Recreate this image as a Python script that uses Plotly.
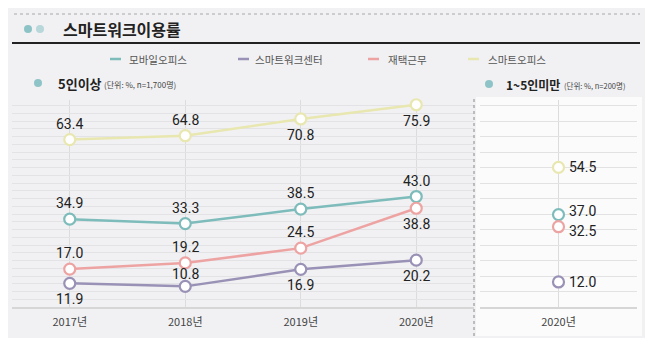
import plotly.graph_objects as go

# ---------------- data ----------------
years = ["2017년", "2018년", "2019년", "2020년"]
series_names = ["모바일오피스", "스마트워크센터", "재택근무", "스마트오피스"]
mobile_office = [34.9, 33.3, 38.5, 43.0]
smartwork_center = [11.9, 10.8, 16.9, 20.2]
home_work = [17.0, 19.2, 24.5, 38.8]
smart_office = [63.4, 64.8, 70.8, 75.9]

small_category = ["2020년"]
small_values = [37.0, 12.0, 32.5, 54.5]  # same order as series_names

title_text = "스마트워크이용률"
left_title = "5인이상"
left_unit = "(단위: %, n=1,700명)"
right_title = "1~5인미만"
right_unit = "(단위: %, n=200명)"

# ---------------- styling ----------------
colors = ["#7dbcbb", "#9a92b6", "#eea3a3", "#e9e7b0"]
left_series = [mobile_office, smartwork_center, home_work, smart_office]
# label vertical offsets in pixels (positive = above the marker)
left_label_shift = [
    [16, 16, 16, 16],
    [-16, 12, -16, -16],
    [16, 16, 16, -16],
    [16, 16, -16, -16],
]
right_label_shift = [4, 0, -4, 0]

W, H = 658, 352
KR = "Noto Sans CJK KR"
NUM = "Roboto"


def px(x):
    return x / W


def py(y):
    return 1 - y / H


TOP, BOT = 100, 307
lv = lambda p: (316.5 - p) / 2.79
rv = lambda p: (314.3 - p) / 2.695

fig = go.Figure()

for name, vals, col in zip(series_names, left_series, colors):
    fig.add_trace(go.Scatter(
        x=years, y=vals, name=name, mode="lines+markers",
        line=dict(color=col, width=2.5),
        marker=dict(symbol="circle", size=11, color="white", line=dict(color=col, width=2.2)),
        xaxis="x", yaxis="y", showlegend=False, cliponaxis=False,
    ))

for name, val, col in zip(series_names, small_values, colors):
    fig.add_trace(go.Scatter(
        x=small_category, y=[val], name=name, mode="markers",
        marker=dict(symbol="circle", size=11, color="white", line=dict(color=col, width=2.2)),
        xaxis="x2", yaxis="y2", showlegend=False, cliponaxis=False,
    ))

shapes = [
    dict(type="rect", xref="paper", yref="paper", x0=px(8), x1=px(645), y0=py(338), y1=py(8),
         fillcolor="#f1f1f3", line=dict(width=0), layer="below"),
    dict(type="rect", xref="paper", yref="paper", x0=px(476), x1=px(642), y0=py(336), y1=py(97),
         fillcolor="#fbfbfb", line=dict(width=0), layer="below"),
    dict(type="line", xref="paper", yref="paper", x0=px(14), x1=px(640), y0=py(14), y1=py(14),
         line=dict(color="#a8a8a8", width=1, dash="dot")),
    dict(type="line", xref="paper", yref="paper", x0=px(12), x1=px(640), y0=py(43), y1=py(43),
         line=dict(color="#222", width=2)),
    dict(type="line", xref="paper", yref="paper", x0=px(474), x1=px(474), y0=py(336), y1=py(98),
         line=dict(color="#888", width=1, dash="dot")),
]

for cx, cy, c in [(28, 29, "#8cc3c6"), (40, 29, "#b7d7db"), (38, 83, "#8ec4c7"), (489, 84, "#8ec4c7")]:
    r = 4
    shapes.append(dict(type="circle", xref="paper", yref="paper",
                       x0=px(cx - r), x1=px(cx + r), y0=py(cy + r), y1=py(cy - r),
                       fillcolor=c, line=dict(width=0)))

legend_x = [110, 238, 368, 468]
legend_text_x = [127, 253, 386, 486]
for lx, col in zip(legend_x, colors):
    shapes.append(dict(type="line", xref="paper", yref="paper", x0=px(lx), x1=px(lx + 11),
                       y0=py(59), y1=py(59), line=dict(color=col, width=2.5)))

annotations = [
    dict(text=f"<b>{title_text}</b>", x=px(61), y=py(29), xref="paper", yref="paper",
         xanchor="left", yanchor="middle", showarrow=False,
         font=dict(family=KR, size=16, color="#222")),
    dict(text=f"<b>{left_title}</b>", x=px(56), y=py(83), xref="paper", yref="paper",
         xanchor="left", yanchor="middle", showarrow=False,
         font=dict(family=KR, size=13, color="#222")),
    dict(text=left_unit, x=px(102), y=py(84), xref="paper", yref="paper",
         xanchor="left", yanchor="middle", showarrow=False,
         font=dict(family=KR, size=8, color="#444")),
    dict(text=f"<b>{right_title}</b>", x=px(504), y=py(84), xref="paper", yref="paper",
         xanchor="left", yanchor="middle", showarrow=False,
         font=dict(family=KR, size=12, color="#222")),
    dict(text=right_unit, x=px(562), y=py(85), xref="paper", yref="paper",
         xanchor="left", yanchor="middle", showarrow=False,
         font=dict(family=KR, size=7.5, color="#444")),
]
for tx, name in zip(legend_text_x, series_names):
    annotations.append(dict(text=name, x=px(tx), y=py(59), xref="paper", yref="paper",
                            xanchor="left", yanchor="middle", showarrow=False,
                            font=dict(family=KR, size=10.5, color="#555")))
for vals, shifts in zip(left_series, left_label_shift):
    for yr, v, dy in zip(years, vals, shifts):
        annotations.append(dict(text=f"{v:.1f}", x=yr, y=v, xref="x", yref="y",
                                xanchor="center", yanchor="middle", yshift=dy, showarrow=False,
                                font=dict(family=NUM, size=14, color="#222")))
for val, dy in zip(small_values, right_label_shift):
    annotations.append(dict(text=f"{val:.1f}", x=small_category[0], y=val, xref="x2", yref="y2",
                            xanchor="left", yanchor="middle", xshift=8, yshift=dy, showarrow=False,
                            font=dict(family=NUM, size=14, color="#222")))

fig.update_layout(
    width=W, height=H, margin=dict(l=0, r=0, t=0, b=0),
    paper_bgcolor="white", plot_bgcolor="rgba(0,0,0,0)",
    shapes=shapes, annotations=annotations,
    xaxis=dict(domain=[px(12), px(474)], type="category", categoryorder="array", categoryarray=years,
               range=[-0.5, 3.5], showgrid=True, gridcolor="#dcdcdc", gridwidth=1,
               showline=True, linecolor="#d6d6d6", linewidth=1.5, ticks="", ticklabelstandoff=4,
               tickfont=dict(family=KR, size=11, color="#444"), anchor="y", zeroline=False),
    yaxis=dict(domain=[py(BOT), py(TOP)], range=[lv(BOT), lv(TOP)], showticklabels=False,
               tick0=lv(BOT), dtick=7.75 / 2.79, showgrid=True, gridcolor="#e3e3e6",
               zeroline=False, anchor="x"),
    xaxis2=dict(domain=[px(480), px(637)], type="category", range=[-0.5, 0.5],
                showgrid=True, gridcolor="#dcdcdc", showline=True, linecolor="#d6d6d6", linewidth=1.5,
                ticks="", ticklabelstandoff=4,
                tickfont=dict(family=KR, size=11, color="#444"), anchor="y2", zeroline=False),
    yaxis2=dict(domain=[py(BOT), py(TOP)], range=[rv(BOT), rv(TOP)], showticklabels=False,
                tick0=rv(BOT), dtick=15.5 / 2.695, showgrid=True, gridcolor="#e2e2e2",
                zeroline=False, anchor="x2"),
)

fig.write_html("out.html")
